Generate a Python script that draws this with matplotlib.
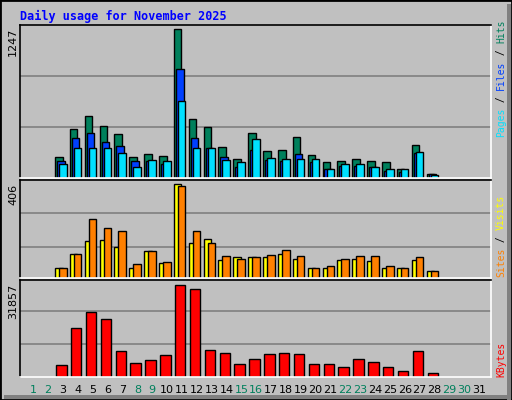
import matplotlib
matplotlib.use("Agg")
import matplotlib.pyplot as plt
from matplotlib.patches import Rectangle
import numpy as np

days = np.arange(1, 32)
active = np.arange(3, 29)
hits = [172, 409, 519, 434, 367, 172, 197, 180, 1247, 494, 426, 257, 155,
        375, 223, 231, 341, 189, 130, 138, 155, 138, 130, 79, 273, 37]
files = [138, 333, 375, 299, 265, 138, 138, 113, 908, 333, 248, 172, 96,
         231, 147, 138, 197, 130, 71, 104, 104, 96, 62, 54, 206, 37]
pages = [113, 248, 248, 248, 206, 88, 147, 138, 646, 248, 248, 147, 130,
         324, 164, 155, 155, 155, 79, 113, 113, 96, 79, 71, 214, 28]
visits = [41, 102, 160, 164, 133, 45, 116, 63, 406, 151, 168, 76, 89,
          89, 89, 102, 80, 41, 41, 76, 80, 72, 41, 41, 76, 28]
sites = [45, 102, 252, 217, 203, 59, 116, 67, 397, 203, 151, 94, 80,
         89, 98, 120, 94, 41, 50, 80, 94, 94, 50, 41, 89, 32]
kbytes = [4300, 16860, 22440, 20000, 8840, 5000, 5700, 7440, 31857, 30470, 9190, 8140, 4650,
          6050, 7790, 8140, 7790, 4650, 4650, 3600, 6050, 5350, 3600, 2210, 8840, 1510]
weekend = [1, 2, 8, 9, 15, 16, 22, 23, 29, 30]

W, H = 512, 400
BG = "#C0C0C0"
GREEN = "#00805C"
SLOT = 14.86          # pixels per day
X0 = 1 - (33.3 - 20) / SLOT
fig = plt.figure(figsize=(W / 100, H / 100), dpi=100, facecolor=BG)


def px_axes(x0, y0, x1, y1):
    ax = fig.add_axes([x0 / W, 1 - y1 / H, (x1 - x0) / W, (y1 - y0) / H])
    ax.set_facecolor(BG)
    ax.set_xlim(X0, X0 + 471 / SLOT)
    ax.set_xticks([])
    ax.set_yticks([])
    for s in ax.spines.values():
        s.set_linewidth(1.2)
    ax.spines["right"].set_color("white")
    ax.spines["bottom"].set_color("white")
    return ax


# figure frame
fig.patches.append(Rectangle((0, 0), 1, 1, transform=fig.transFigure, fill=False,
                             edgecolor="black", linewidth=2))
fig.patches.append(Rectangle((1 - 5 / W, 0), 4 / W, 1 - 4 / H, transform=fig.transFigure,
                             facecolor="#808080", edgecolor="none"))
fig.patches.append(Rectangle((4 / W, 1 / H), 1 - 5 / W, 4 / H, transform=fig.transFigure,
                             facecolor="#808080", edgecolor="none"))

px = 1 / SLOT
bw = 7.6 * px

ax1 = px_axes(20, 25, 491, 178)
ax1.set_ylim(0, 1247 * 151 / 147.4)
for g in [423, 854]:
    ax1.axhline(g, color="#808080", lw=1.2, zorder=0)
ax1.bar(active - 4.2 * px, hits, bw, color=GREEN, edgecolor="black", lw=1)
ax1.bar(active - 2.2 * px, files, bw, color="#0040FF", edgecolor="black", lw=1)
ax1.bar(active - 0.2 * px, pages, bw, color="#00E0FF", edgecolor="black", lw=1)

ax2 = px_axes(20, 180, 491, 278)
ax2.set_ylim(0, 406 * 96 / 92.4)
for g in [406 * 30.4 / 92.4, 406 * 63.4 / 92.4]:
    ax2.axhline(g, color="#808080", lw=1.2, zorder=0)
ax2.bar(active - 4.2 * px, visits, bw, color="#FFFF00", edgecolor="black", lw=1)
ax2.bar(active - 0.2 * px, sites, bw, color="#FF8000", edgecolor="black", lw=1)

ax3 = px_axes(20, 280, 491, 377)
ax3.set_ylim(0, 31857 * 96 / 91.3)
for g in [31857 * 32.7 / 91.3, 31857 * 65.7 / 91.3]:
    ax3.axhline(g, color="#808080", lw=1.2, zorder=0)
ax3.bar(active - 1.7 * px, kbytes, 10.5 * px, color="#FF0000", edgecolor="black", lw=1)

for d in days:
    ax3.text(d, -13 / 96, str(d), transform=ax3.get_xaxis_transform(), ha="center", va="center",
             fontsize=8, color=GREEN if d in weekend else "black", family="DejaVu Sans",
             clip_on=False)

fig.text(20 / W, 1 - 16 / H, "Daily usage for November 2025", fontsize=8.5, fontweight="bold",
         color="#0000FF", family="DejaVu Sans Mono", va="center")

for y, lab in [(28, "1247"), (184, "406"), (284, "31857")]:
    fig.text(13 / W, 1 - y / H, lab, rotation=90, ha="center", va="top", fontsize=8,
             family="DejaVu Sans")


def side_label(y_bottom, parts):
    cw = 5.85
    y = y_bottom
    for txt, col in parts:
        fig.text(501 / W, 1 - y / H, txt, rotation=90, ha="center", va="bottom", fontsize=7,
                 color=col, family="DejaVu Sans Mono")
        y -= cw * len(txt)


side_label(137, [("Pages", "#00E0FF"), (" / ", "black"), ("Files", "#0040FF"),
                 (" / ", "black"), ("Hits", GREEN)])
side_label(277, [("Sites", "#FF8000"), (" / ", "black"), ("Visits", "#FFFF00")])
side_label(377, [("KBytes", "#FF0000")])

fig.savefig("out.png", dpi=100, facecolor=BG)
